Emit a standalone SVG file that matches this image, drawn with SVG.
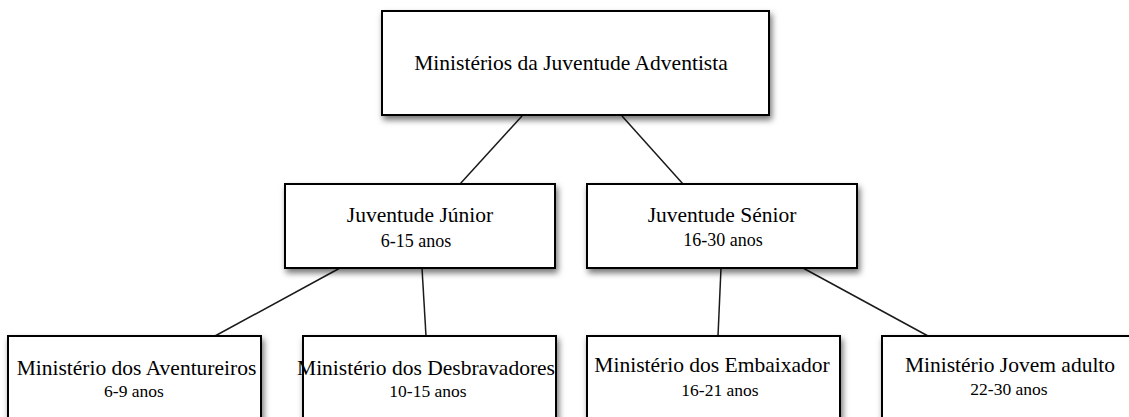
<svg xmlns="http://www.w3.org/2000/svg" width="1129" height="417" viewBox="0 0 1129 417">
<style>
.box{fill:#fff;stroke:#000;stroke-width:2;filter:url(#sh)}
.t{font-family:"Liberation Serif","Times New Roman",serif;font-size:21.5px;fill:#000;text-anchor:middle}
.s{font-family:"Liberation Serif","Times New Roman",serif;font-size:17.5px;fill:#000;text-anchor:middle}
.m{font-size:18px}
.c{stroke:#1a1a1a;stroke-width:1.5;fill:none}
</style>
<defs>
<filter id="sh" x="-10%" y="-20%" width="130%" height="160%">
<feDropShadow dx="2" dy="4" stdDeviation="3" flood-color="#000" flood-opacity="0.55"/>
</filter>
</defs>
<rect width="1129" height="417" fill="#fff"/>
<g id="connectors">
<line class="c" x1="522" y1="116" x2="460" y2="184"/>
<line class="c" x1="622" y1="116" x2="683" y2="184"/>
<line class="c" x1="340" y1="268" x2="215" y2="336"/>
<line class="c" x1="422" y1="268" x2="426" y2="336"/>
<line class="c" x1="721" y1="268" x2="718" y2="336"/>
<line class="c" x1="803" y1="268" x2="928" y2="336"/>
</g>
<g id="root">
<rect class="box" x="382" y="11" width="387" height="104"/>
<text class="t" x="571" y="70">Ministérios da Juventude Adventista</text>
</g>
<g id="junior">
<rect class="box" x="285" y="184" width="270" height="84"/>
<text class="t" x="420" y="222">Juventude Júnior</text>
<text class="s m" x="416" y="247">6-15 anos</text>
</g>
<g id="senior">
<rect class="box" x="587" y="184" width="270" height="84"/>
<text class="t" x="722" y="222">Juventude Sénior</text>
<text class="s m" x="723" y="246">16-30 anos</text>
</g>
<g id="aventureiros">
<rect class="box" x="8" y="336" width="253" height="100"/>
<text class="t" x="136.5" y="375">Ministério dos Aventureiros</text>
<text class="s" x="134" y="397">6-9 anos</text>
</g>
<g id="desbravadores">
<rect class="box" x="303" y="336" width="253" height="100"/>
<text class="t" x="426" y="375">Ministério dos Desbravadores</text>
<text class="s" x="428" y="397">10-15 anos</text>
</g>
<g id="embaixador">
<rect class="box" x="587" y="336" width="253" height="100"/>
<text class="t" x="712" y="372">Ministério dos Embaixador</text>
<text class="s" x="720" y="396">16-21 anos</text>
</g>
<g id="jovem">
<rect class="box" x="882" y="336" width="253" height="100"/>
<text class="t" x="1010" y="372">Ministério Jovem adulto</text>
<text class="s" x="1009" y="395">22-30 anos</text>
</g>
</svg>
